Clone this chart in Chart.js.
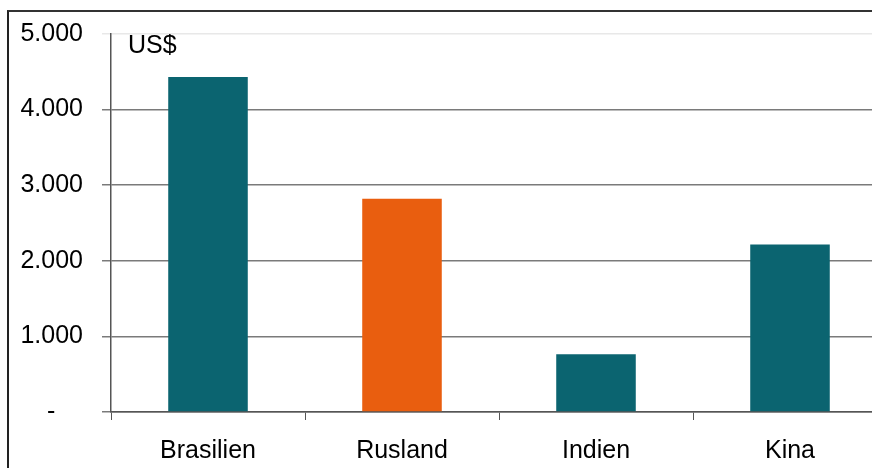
<!DOCTYPE html>
<html>
<head>
<meta charset="utf-8">
<script src="https://cdn.jsdelivr.net/npm/chart.js@4"></script>
<style>
    html, body { margin: 0; padding: 0; overflow: hidden; background: #fff; width: 872px; height: 468px; }
    #wrap { position: absolute; left: 0; top: 0; width: 890px; height: 468px; }
    #frame { position: absolute; left: 7px; top: 10px; width: 900px; height: 500px;
             border-top: 2px solid #333; border-left: 2px solid #222; }
</style>
</head>
<body>
<div id="frame"></div>
<div id="wrap"><canvas id="myChart" width="890" height="468"></canvas></div>
<script>
const countries = ["Brasilien", "Rusland", "Indien", "Kina"];
const gdpPerCapita = [4430, 2820, 765, 2215]; // US$
const barColors = ["#0b6470", "#e95e0f", "#0b6470", "#0b6470"];
const yTicks = [0, 1000, 2000, 3000, 4000, 5000];

window.onload = function () {
    const ctx = document.getElementById("myChart").getContext("2d");
    const font = { family: "'Liberation Sans', Arial, sans-serif", size: 25 };

    // "US$" unit label inside the plot area
    const unitLabel = {
        id: "unitLabel",
        afterDraw(chart) {
            const c = chart.ctx;
            c.save();
            c.font = "25px 'Liberation Sans', Arial, sans-serif";
            c.fillStyle = "#000";
            c.textBaseline = "alphabetic";
            c.fillText("US$", chart.chartArea.left + 17, chart.chartArea.top + 19);
            c.restore();
        }
    };

    new Chart(ctx, {
        type: "bar",
        data: {
            labels: countries,
            datasets: [{
                data: gdpPerCapita,
                backgroundColor: barColors,
                barPercentage: 0.82,
                categoryPercentage: 0.5
            }]
        },
        options: {
            responsive: false,
            animation: false,
            layout: { padding: { top: 33, right: 3, left: 0, bottom: 0 } },
            scales: {
                x: {
                    grid: { drawOnChartArea: false, color: "#555", tickLength: 8, offset: true },
                    border: { color: "#555", width: 1.5 },
                    ticks: { color: "#000", font: font, padding: 16 },
                    afterFit(scale) { scale.height = 56; }
                },
                y: {
                    min: 0,
                    max: 5000,
                    afterBuildTicks(scale) { scale.ticks = yTicks.map(v => ({ value: v })); },
                    grid: {
                        color: c => (c.tick && c.tick.value === 5000) ? "#e8e8e8" : "#7a7a7a",
                        lineWidth: 1.5,
                        tickLength: 9
                    },
                    border: { color: "#555", width: 1.5 },
                    ticks: {
                        color: "#000",
                        font: font,
                        padding: 19,
                        callback: v => v === 0 ? "-\u00a0\u00a0\u00a0\u00a0" : v.toLocaleString("da-DK")
                    },
                    afterFit(scale) { scale.width = 111; }
                }
            },
            plugins: {
                legend: { display: false },
                tooltip: { enabled: false }
            }
        },
        plugins: [unitLabel]
    });
};
</script>
</body>
</html>
